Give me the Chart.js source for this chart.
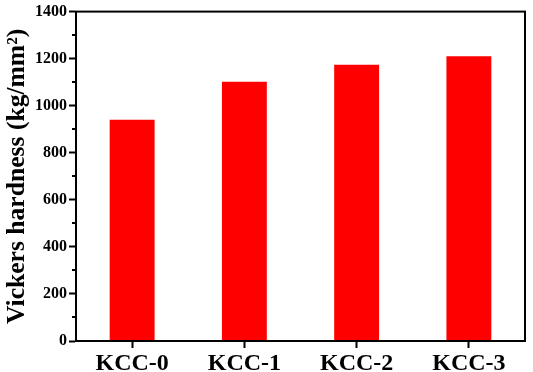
<!DOCTYPE html>
<html>
<head>
<meta charset="utf-8">
<script src="https://cdn.jsdelivr.net/npm/chart.js@4/dist/chart.umd.min.js"></script>
<style>
html,body{margin:0;padding:0;background:#fff;}
#wrap{width:533px;height:372px;}
</style>
</head>
<body>
<div id="wrap"><canvas id="c" width="533" height="372"></canvas></div>
<script>
const categories = ["KCC-0", "KCC-1", "KCC-2", "KCC-3"];
const hardness = [940, 1102, 1174, 1210];
const yMin = 0, yMax = 1400, yMajorStep = 200, yMinorStep = 100;
const yTitle = "Vickers hardness (kg/mm\u00B2)";

const FONT = "'Liberation Serif', 'Times New Roman', serif";

const framePlugin = {
  id: 'frame',
  afterDraw(chart) {
    const ctx = chart.ctx, a = chart.chartArea;
    const y = chart.scales.y;
    ctx.save();
    ctx.strokeStyle = '#000';
    ctx.lineWidth = 2;
    for (let v = yMin + yMinorStep; v < yMax; v += yMajorStep) {
      const py = Math.round(y.getPixelForValue(v));
      ctx.beginPath();
      ctx.moveTo(a.left - 4, py);
      ctx.lineTo(a.left, py);
      ctx.stroke();
    }
    ctx.strokeRect(a.left, a.top, a.right - a.left, a.bottom - a.top);
    ctx.restore();
  }
};

new Chart(document.getElementById('c'), {
  type: 'bar',
  data: {
    labels: categories,
    datasets: [{
      data: hardness,
      backgroundColor: '#ff0000',
      borderWidth: 0,
      barPercentage: 0.4,
      categoryPercentage: 1.0
    }]
  },
  options: {
    responsive: false,
    animation: false,
    devicePixelRatio: 1,
    layout: { padding: { top: 7, right: 8, left: 0, bottom: 0 } },
    plugins: { legend: { display: false }, tooltip: { enabled: false } },
    scales: {
      x: {
        grid: { display: true, drawOnChartArea: false, tickLength: 7, tickWidth: 2, tickColor: '#000', offset: false },
        border: { display: true, color: '#000', width: 2 },
        ticks: { color: '#000', padding: 1, font: { family: FONT, size: 24, weight: 'bold' } },
        afterFit(s) { s.height = 31; }
      },
      y: {
        min: yMin, max: yMax,
        grid: { display: true, drawOnChartArea: false, tickLength: 7, tickWidth: 2, tickColor: '#000' },
        border: { display: true, color: '#000', width: 2 },
        ticks: { stepSize: yMajorStep, color: '#000', padding: 2, font: { family: FONT, size: 16, weight: 'bold' },
                 callback: (v) => String(v) },
        title: { display: true, text: yTitle, color: '#000', padding: { top: 2, bottom: 0 }, font: { family: FONT, size: 25.6, weight: 'bold' } },
        afterFit(s) { s.width = 76; }
      }
    }
  },
  plugins: [framePlugin]
});
</script>
</body>
</html>
